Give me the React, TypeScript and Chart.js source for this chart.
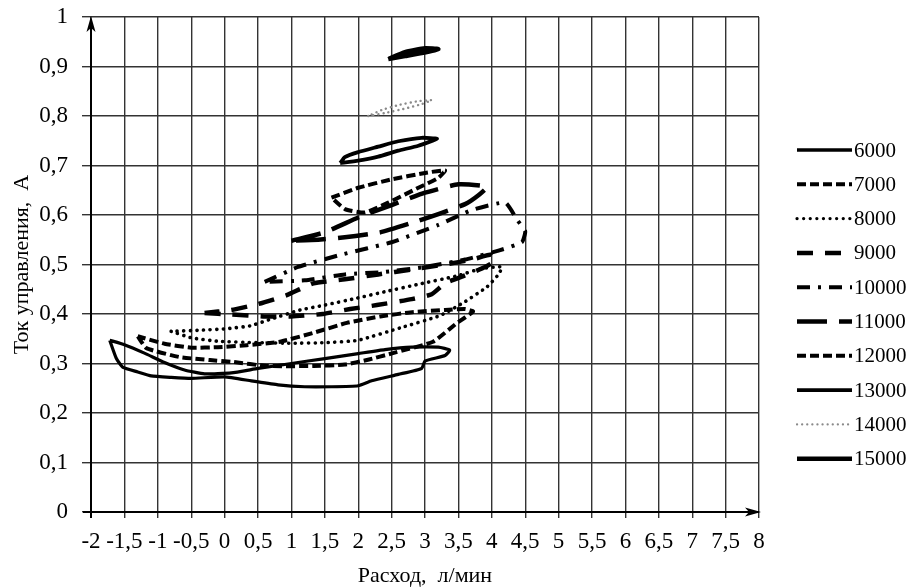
import React, { useEffect, useRef } from "react";
import { Chart, registerables } from "chart.js";

Chart.register(...registerables);

// ---- axis ticks ----
const xTickValues = [-2, -1.5, -1, -0.5, 0, 0.5, 1, 1.5, 2, 2.5, 3, 3.5, 4, 4.5, 5, 5.5, 6, 6.5, 7, 7.5, 8];
const yTickValues = [0, 0.1, 0.2, 0.3, 0.4, 0.5, 0.6, 0.7, 0.8, 0.9, 1];

// ---- series names ----
const seriesNames = ["6000", "7000", "8000", "9000", "10000", "11000", "12000", "13000", "14000", "15000"];

// ---- series values (closed loops: x = расход, y = ток) ----
const x6000 = [-1.72, -1.62, -1.52, -1.3, -1.1, -0.8, -0.5, 0.0, 0.4, 0.8, 1.2, 1.6, 2.0, 2.2, 2.6, 2.95, 3.0, 3.3, 3.37, 3.2, 2.8, 2.4, 2.0, 1.5, 1.0, 0.5, 0.1, -0.3, -0.6, -0.9, -1.2, -1.5, -1.72];
const y6000 = [0.347, 0.31, 0.292, 0.283, 0.275, 0.272, 0.27, 0.273, 0.265, 0.257, 0.253, 0.253, 0.255, 0.265, 0.278, 0.29, 0.305, 0.316, 0.327, 0.333, 0.333, 0.328, 0.32, 0.31, 0.3, 0.29, 0.281, 0.279, 0.287, 0.302, 0.321, 0.338, 0.347];

const x7000 = [-1.3, -1.17, -0.67, -0.22, 0.13, 0.63, 1.33, 1.8, 2.13, 2.52, 3.12, 3.48, 3.72, 3.6, 3.3, 2.83, 2.33, 1.83, 1.33, 0.83, 0.33, -0.1, -0.5, -0.9, -1.3];
const y7000 = [0.355, 0.331, 0.313, 0.307, 0.303, 0.295, 0.295, 0.298, 0.307, 0.321, 0.344, 0.382, 0.405, 0.41, 0.408, 0.404, 0.395, 0.382, 0.362, 0.344, 0.337, 0.333, 0.332, 0.34, 0.355];

const x8000 = [-0.8, -0.5, -0.1, 0.5, 1.0, 1.5, 2.0, 2.63, 3.23, 3.6, 3.93, 4.1, 4.15, 3.85, 3.48, 2.9, 2.4, 1.98, 1.5, 1.13, 0.7, 0.38, 0.0, -0.4, -0.8];
const y8000 = [0.365, 0.352, 0.345, 0.342, 0.341, 0.342, 0.347, 0.372, 0.397, 0.425, 0.455, 0.48, 0.495, 0.492, 0.477, 0.46, 0.445, 0.432, 0.418, 0.408, 0.39, 0.376, 0.37, 0.367, 0.365];

const x9000 = [-0.3, 0.1, 0.6, 1.0, 1.47, 1.88, 2.28, 2.8, 3.1, 3.3, 3.6, 3.9, 4.05, 4.0, 3.7, 3.3, 2.8, 2.3, 1.8, 1.33, 0.93, 0.5, 0.1, -0.3];
const y9000 = [0.402, 0.399, 0.395, 0.395, 0.4, 0.41, 0.418, 0.43, 0.44, 0.462, 0.478, 0.495, 0.508, 0.52, 0.51, 0.5, 0.49, 0.48, 0.47, 0.462, 0.438, 0.42, 0.408, 0.402];

const x10000 = [0.6, 1.1, 1.75, 2.5, 3.2, 3.7, 4.2, 4.38, 4.5, 4.45, 4.1, 3.6, 3.0, 2.4, 1.8, 1.2, 0.6];
const y10000 = [0.465, 0.495, 0.52, 0.545, 0.58, 0.61, 0.625, 0.59, 0.567, 0.545, 0.528, 0.51, 0.495, 0.485, 0.48, 0.468, 0.465];

const x11000 = [1.0, 1.5, 2.0, 2.5, 3.0, 3.5, 3.93, 3.8, 3.6, 3.2, 2.8, 2.33, 1.8, 1.4, 1.0];
const y11000 = [0.548, 0.565, 0.595, 0.62, 0.645, 0.662, 0.657, 0.64, 0.622, 0.602, 0.584, 0.565, 0.555, 0.55, 0.548];

const x12000 = [1.6, 2.0, 2.5, 3.0, 3.3, 3.2, 2.9, 2.45, 2.1, 1.8, 1.6];
const y12000 = [0.635, 0.655, 0.672, 0.685, 0.69, 0.675, 0.655, 0.625, 0.605, 0.612, 0.635];

const x13000 = [1.73, 2.0, 2.3, 2.6, 2.9, 3.18, 2.95, 2.6, 2.3, 2.0, 1.8, 1.73];
const y13000 = [0.705, 0.71, 0.718, 0.73, 0.74, 0.754, 0.756, 0.749, 0.738, 0.727, 0.717, 0.705];

const x14000 = [2.15, 2.4, 2.7, 2.95, 3.1, 2.9, 2.6, 2.35, 2.15];
const y14000 = [0.8, 0.806, 0.815, 0.824, 0.832, 0.83, 0.822, 0.812, 0.8];

const x15000 = [2.45, 2.7, 2.95, 3.2, 3.0, 2.7, 2.45];
const y15000 = [0.915, 0.921, 0.927, 0.935, 0.937, 0.929, 0.915];

const seriesX = [x6000, x7000, x8000, x9000, x10000, x11000, x12000, x13000, x14000, x15000];
const seriesY = [y6000, y7000, y8000, y9000, y10000, y11000, y12000, y13000, y14000, y15000];

// ---- styles ----
const seriesColors = ["#000", "#000", "#000", "#000", "#000", "#000", "#000", "#000", "#8a8a8a", "#000"];
const seriesWidths = [3.2, 4, 3.6, 4.5, 4, 4.5, 4, 3.8, 2.4, 4.5];
const legendWidths = [3.5, 4, 3.2, 4.5, 4, 4.5, 4, 3.8, 2.2, 4.5];
const seriesDashes: number[][] = [[], [9, 4], [0.1, 6.5], [16, 12], [13, 8, 3, 8], [30, 12], [9, 4], [], [0.1, 5], []];
const seriesCaps = ["butt", "butt", "round", "butt", "butt", "butt", "butt", "butt", "round", "butt"];

const SERIF = '"Liberation Serif", "Times New Roman", serif';
const fmt = (v: number) => String(+v.toFixed(2)).replace(".", ",");

const axesPlugin = {
  id: "arrowAxes",
  afterDraw(chart: any) {
    const { ctx, chartArea } = chart;
    const { left, right, top, bottom } = chartArea;
    ctx.save();
    ctx.strokeStyle = "#000";
    ctx.fillStyle = "#000";
    ctx.lineWidth = 2;
    ctx.setLineDash([]);
    // y axis
    ctx.beginPath();
    ctx.moveTo(left, bottom + 6);
    ctx.lineTo(left, top + 2);
    ctx.stroke();
    ctx.beginPath();
    ctx.moveTo(left, top - 1);
    ctx.lineTo(left - 4.5, top + 15);
    ctx.lineTo(left, top + 11);
    ctx.lineTo(left + 4.5, top + 15);
    ctx.closePath();
    ctx.fill();
    // x axis
    ctx.beginPath();
    ctx.moveTo(left - 8, bottom);
    ctx.lineTo(right, bottom);
    ctx.stroke();
    ctx.beginPath();
    ctx.moveTo(right + 2, bottom);
    ctx.lineTo(right - 14, bottom - 4.5);
    ctx.lineTo(right - 10, bottom);
    ctx.lineTo(right - 14, bottom + 4.5);
    ctx.closePath();
    ctx.fill();
    ctx.restore();
  },
};

const legendPlugin = {
  id: "sideLegend",
  afterDraw(chart: any) {
    const ctx = chart.ctx;
    const x0 = 797;
    const x1 = 852;
    const top = 150;
    const step = 34.3;
    chart.data.datasets.forEach((ds: any, i: number) => {
      const y = top + i * step;
      ctx.save();
      ctx.strokeStyle = ds.borderColor;
      ctx.lineWidth = legendWidths[i];
      ctx.lineCap = ds.borderCapStyle;
      ctx.setLineDash(ds.borderDash || []);
      ctx.beginPath();
      ctx.moveTo(x0, y);
      ctx.lineTo(x1, y);
      ctx.stroke();
      ctx.setLineDash([]);
      ctx.fillStyle = "#000";
      ctx.font = `21px ${SERIF}`;
      ctx.textBaseline = "middle";
      ctx.textAlign = "left";
      ctx.fillText(ds.label, 854, y + 1);
      ctx.restore();
    });
  },
};

export default function App() {
  const canvasRef = useRef<HTMLCanvasElement | null>(null);

  useEffect(() => {
    document.body.style.margin = "0";
    const canvas = canvasRef.current;
    if (!canvas) return;

    const datasets = seriesNames.map((name, i) => ({
      label: name,
      data: seriesX[i].map((x, j) => ({ x, y: seriesY[i][j] })),
      showLine: true,
      borderColor: seriesColors[i],
      backgroundColor: seriesColors[i],
      borderWidth: seriesWidths[i],
      borderDash: seriesDashes[i],
      borderCapStyle: seriesCaps[i],
      borderJoinStyle: "round",
      pointRadius: 0,
      pointHoverRadius: 0,
      tension: 0.15,
      fill: false,
    }));

    const chart = new Chart(canvas, {
      type: "scatter",
      data: { datasets },
      plugins: [axesPlugin, legendPlugin],
      options: {
        animation: false,
        responsive: false,
        devicePixelRatio: 1,
        layout: { padding: { left: 0, right: 151, top: 17, bottom: 0 } },
        plugins: {
          legend: { display: false },
          tooltip: { enabled: false },
        },
        scales: {
          x: {
            type: "linear",
            min: -2,
            max: 8,
            afterFit: (s: any) => {
              s.height = 76;
              s.paddingLeft = 0;
              s.paddingRight = 0;
            },
            afterBuildTicks: (s: any) => {
              s.ticks = xTickValues.map((v) => ({ value: v }));
            },
            ticks: {
              autoSkip: false,
              maxRotation: 0,
              minRotation: 0,
              padding: 10,
              color: "#000",
              font: { family: SERIF, size: 23 },
              callback: (v: any) => fmt(Number(v)),
            },
            grid: { color: "#333", lineWidth: 1.4, tickLength: 6, tickColor: "#333" },
            border: { display: false },
            title: {
              display: true,
              text: "Расход,  л/мин",
              color: "#000",
              font: { family: SERIF, size: 22, lineHeight: 1 },
              padding: { top: 0, bottom: 1 },
            },
          },
          y: {
            type: "linear",
            min: 0,
            max: 1,
            afterFit: (s: any) => {
              s.width = 91;
              s.paddingTop = 0;
              s.paddingBottom = 0;
            },
            afterBuildTicks: (s: any) => {
              s.ticks = yTickValues.map((v) => ({ value: v }));
            },
            ticks: {
              padding: 14,
              color: "#000",
              font: { family: SERIF, size: 23 },
              callback: (v: any) => fmt(Number(v)),
            },
            grid: { color: "#333", lineWidth: 1.4, tickLength: 9, tickColor: "#333" },
            border: { display: false },
            title: {
              display: true,
              text: "Ток управления,  А",
              color: "#000",
              font: { family: SERIF, size: 22, lineHeight: 1 },
              padding: { top: 11, bottom: 0 },
            },
          },
        },
      } as any,
    });

    return () => {
      chart.destroy();
    };
  }, []);

  return (
    <div style={{ width: 910, height: 588, background: "#fff" }}>
      <canvas ref={canvasRef} width={910} height={588} style={{ display: "block" }} />
    </div>
  );
}
